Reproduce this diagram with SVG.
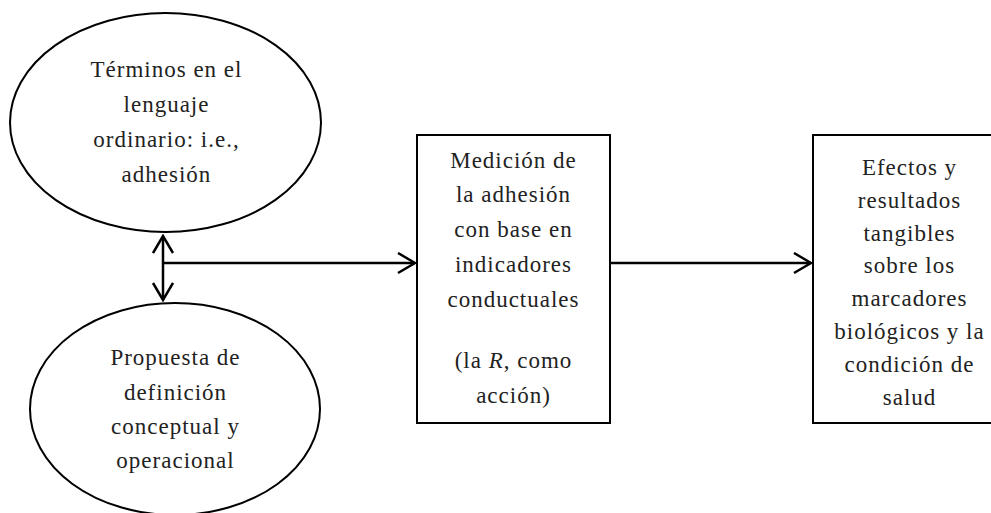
<svg xmlns="http://www.w3.org/2000/svg" width="991" height="513" viewBox="0 0 991 513">
<defs>
<style>
.shape{fill:#fff;stroke:#000;stroke-width:2}
.lbl{font-family:"Liberation Serif","Times New Roman",serif;font-size:23px;fill:#222;text-anchor:middle;letter-spacing:1px}
.conn{stroke:#000;stroke-width:2.5;fill:none}
</style>
<marker id="arr" markerWidth="20" markerHeight="24" refX="18" refY="11" orient="auto-start-reverse" markerUnits="userSpaceOnUse">
<path d="M1,1 L18,11 L1,21" fill="none" stroke="#000" stroke-width="2.5"/>
</marker>
</defs>
<g id="connectors">
<line class="conn" x1="163" y1="236" x2="163" y2="300" marker-start="url(#arr)" marker-end="url(#arr)"/>
<line class="conn" x1="163" y1="263" x2="415" y2="263" marker-end="url(#arr)"/>
<line class="conn" x1="610" y1="263" x2="811" y2="263" marker-end="url(#arr)"/>
</g>
<g id="node-terminos">
<ellipse class="shape" cx="165.5" cy="122.5" rx="155.5" ry="109.5"/>
<text class="lbl" x="166.5" y="77">Términos en el</text>
<text class="lbl" x="166.5" y="112">lenguaje</text>
<text class="lbl" x="166.5" y="147">ordinario: i.e.,</text>
<text class="lbl" x="166.5" y="182">adhesión</text>
</g>
<g id="node-propuesta">
<ellipse class="shape" cx="175" cy="409" rx="145" ry="106"/>
<text class="lbl" x="175.5" y="365">Propuesta de</text>
<text class="lbl" x="175.5" y="400">definición</text>
<text class="lbl" x="175.5" y="434">conceptual y</text>
<text class="lbl" x="175.5" y="468">operacional</text>
</g>
<g id="node-medicion">
<rect class="shape" x="417" y="135" width="193" height="288"/>
<text class="lbl" x="513.5" y="168">Medición de</text>
<text class="lbl" x="513.5" y="202">la adhesión</text>
<text class="lbl" x="513.5" y="237">con base en</text>
<text class="lbl" x="513.5" y="272">indicadores</text>
<text class="lbl" x="513.5" y="307">conductuales</text>
<text class="lbl" x="513.5" y="368">(la <tspan font-style="italic">R</tspan>, como</text>
<text class="lbl" x="513.5" y="403">acción)</text>
</g>
<g id="node-efectos">
<rect class="shape" x="813" y="135" width="193" height="288"/>
<text class="lbl" x="909.5" y="175">Efectos y</text>
<text class="lbl" x="909.5" y="208">resultados</text>
<text class="lbl" x="909.5" y="241">tangibles</text>
<text class="lbl" x="909.5" y="273">sobre los</text>
<text class="lbl" x="909.5" y="306">marcadores</text>
<text class="lbl" x="909.5" y="339">biológicos y la</text>
<text class="lbl" x="909.5" y="372">condición de</text>
<text class="lbl" x="909.5" y="405">salud</text>
</g>
</svg>
